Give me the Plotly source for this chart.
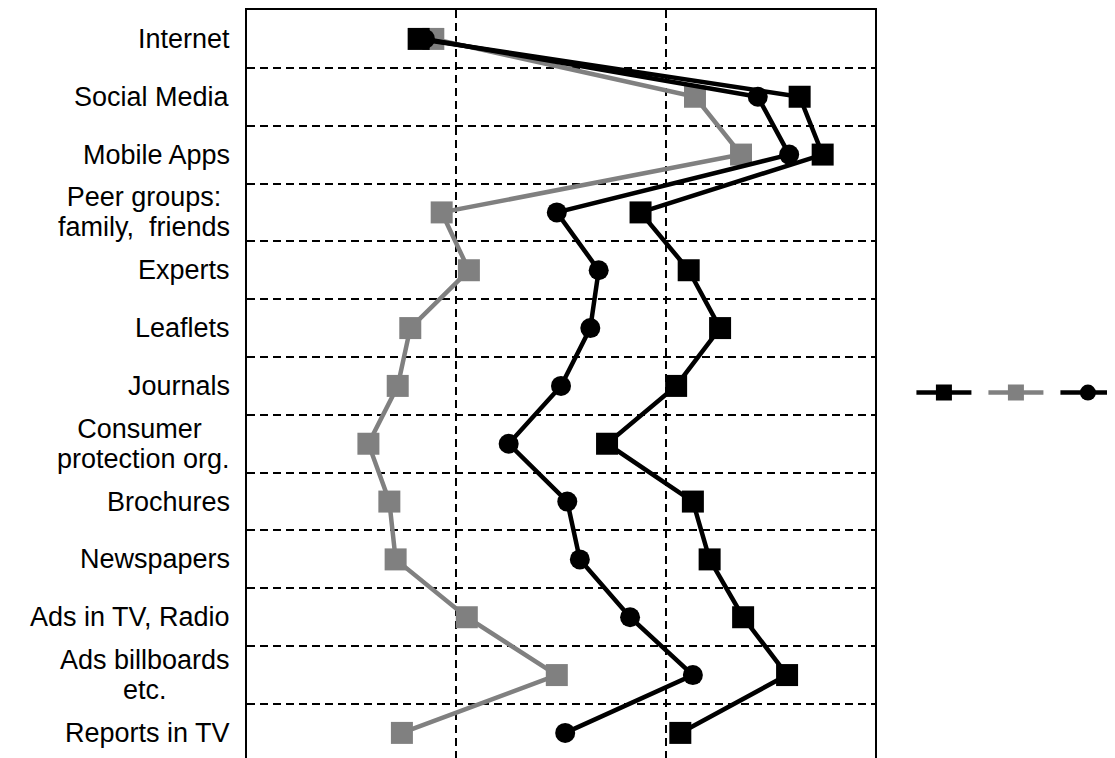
import plotly.graph_objects as go

categories = ["Internet", "Social Media", "Mobile Apps", "Peer groups: family, friends",
              "Experts", "Leaflets", "Journals", "Consumer protection org.",
              "Brochures", "Newspapers", "Ads in TV, Radio", "Ads billboards etc.",
              "Reports in TV"]
label_lines = [["Internet"], ["Social Media"], ["Mobile Apps"], ["Peer groups:", "family,  friends"],
               ["Experts"], ["Leaflets"], ["Journals"], ["Consumer ", "protection org."],
               ["Brochures"], ["Newspapers"], ["Ads in TV, Radio"], ["Ads billboards", "etc."],
               ["Reports in TV"]]

series_black_sq = [1.82, 3.64, 3.75, 2.88, 3.11, 3.26, 3.05, 2.72, 3.13, 3.21, 3.37, 3.58, 3.07]
series_gray_sq = [1.89, 3.14, 3.36, 1.93, 2.06, 1.78, 1.72, 1.58, 1.68, 1.71, 2.05, 2.48, 1.74]
series_black_circ = [1.85, 3.44, 3.59, 2.48, 2.68, 2.64, 2.50, 2.25, 2.53, 2.59, 2.83, 3.13, 2.52]

BLACK = "#000000"
GRAY = "#808080"
FONT = "Liberation Sans, Arial, sans-serif"

fig = go.Figure()
fig.add_trace(go.Scatter(x=series_gray_sq, y=categories, mode="lines+markers", name="",
                         line=dict(color=GRAY, width=4.5),
                         marker=dict(symbol="square", size=22, color=GRAY),
                         legendrank=2))
fig.add_trace(go.Scatter(x=series_black_sq, y=categories, mode="lines+markers", name="",
                         line=dict(color=BLACK, width=4.5),
                         marker=dict(symbol="square", size=22, color=BLACK),
                         legendrank=1))
fig.add_trace(go.Scatter(x=series_black_circ, y=categories, mode="lines+markers", name="",
                         line=dict(color=BLACK, width=4.5),
                         marker=dict(symbol="circle", size=20, color=BLACK),
                         legendrank=3))

# base font size sets the line spacing (1.3 em); the spans set the glyph size
for cat, lines in zip(categories, label_lines):
    text = "<br>".join('<span style="font-size:27px">%s</span>' % ln for ln in lines)
    fig.add_annotation(x=0, xref="paper", y=cat, yref="y", text=text, showarrow=False,
                       xanchor="right", yanchor="middle", align="center", xshift=-15,
                       font=dict(family=FONT, size=23, color="black"))

fig.update_xaxes(range=[1, 4], dtick=1, side="top", showline=True, linecolor="black",
                 linewidth=2, mirror=False, showgrid=True, gridcolor="black", gridwidth=2,
                 griddash="8px,5px", showticklabels=False, ticks="", zeroline=False)
fig.update_yaxes(type="category", categoryorder="array", categoryarray=categories,
                 range=[12.434, -0.5], tickson="boundaries", showgrid=True,
                 gridcolor="black", gridwidth=2, griddash="8px,5px",
                 showline=True, linecolor="black", linewidth=2, mirror=True,
                 showticklabels=False, ticks="", zeroline=False)

# the page body has an 8px default margin; size the figure so the plot lands where the reference has it
fig.update_layout(width=1107, height=750,
                  margin=dict(l=239, r=240, t=2, b=0, autoexpand=False),
                  plot_bgcolor="white", paper_bgcolor="white",
                  showlegend=True,
                  legend=dict(orientation="h", x=1.058, y=0.488, xanchor="left", yanchor="middle",
                              itemwidth=55, entrywidth=2, entrywidthmode="pixels",
                              bgcolor="rgba(0,0,0,0)", font=dict(size=14)),
                  font=dict(family=FONT, color="black"))

fig.write_html("out.html")
